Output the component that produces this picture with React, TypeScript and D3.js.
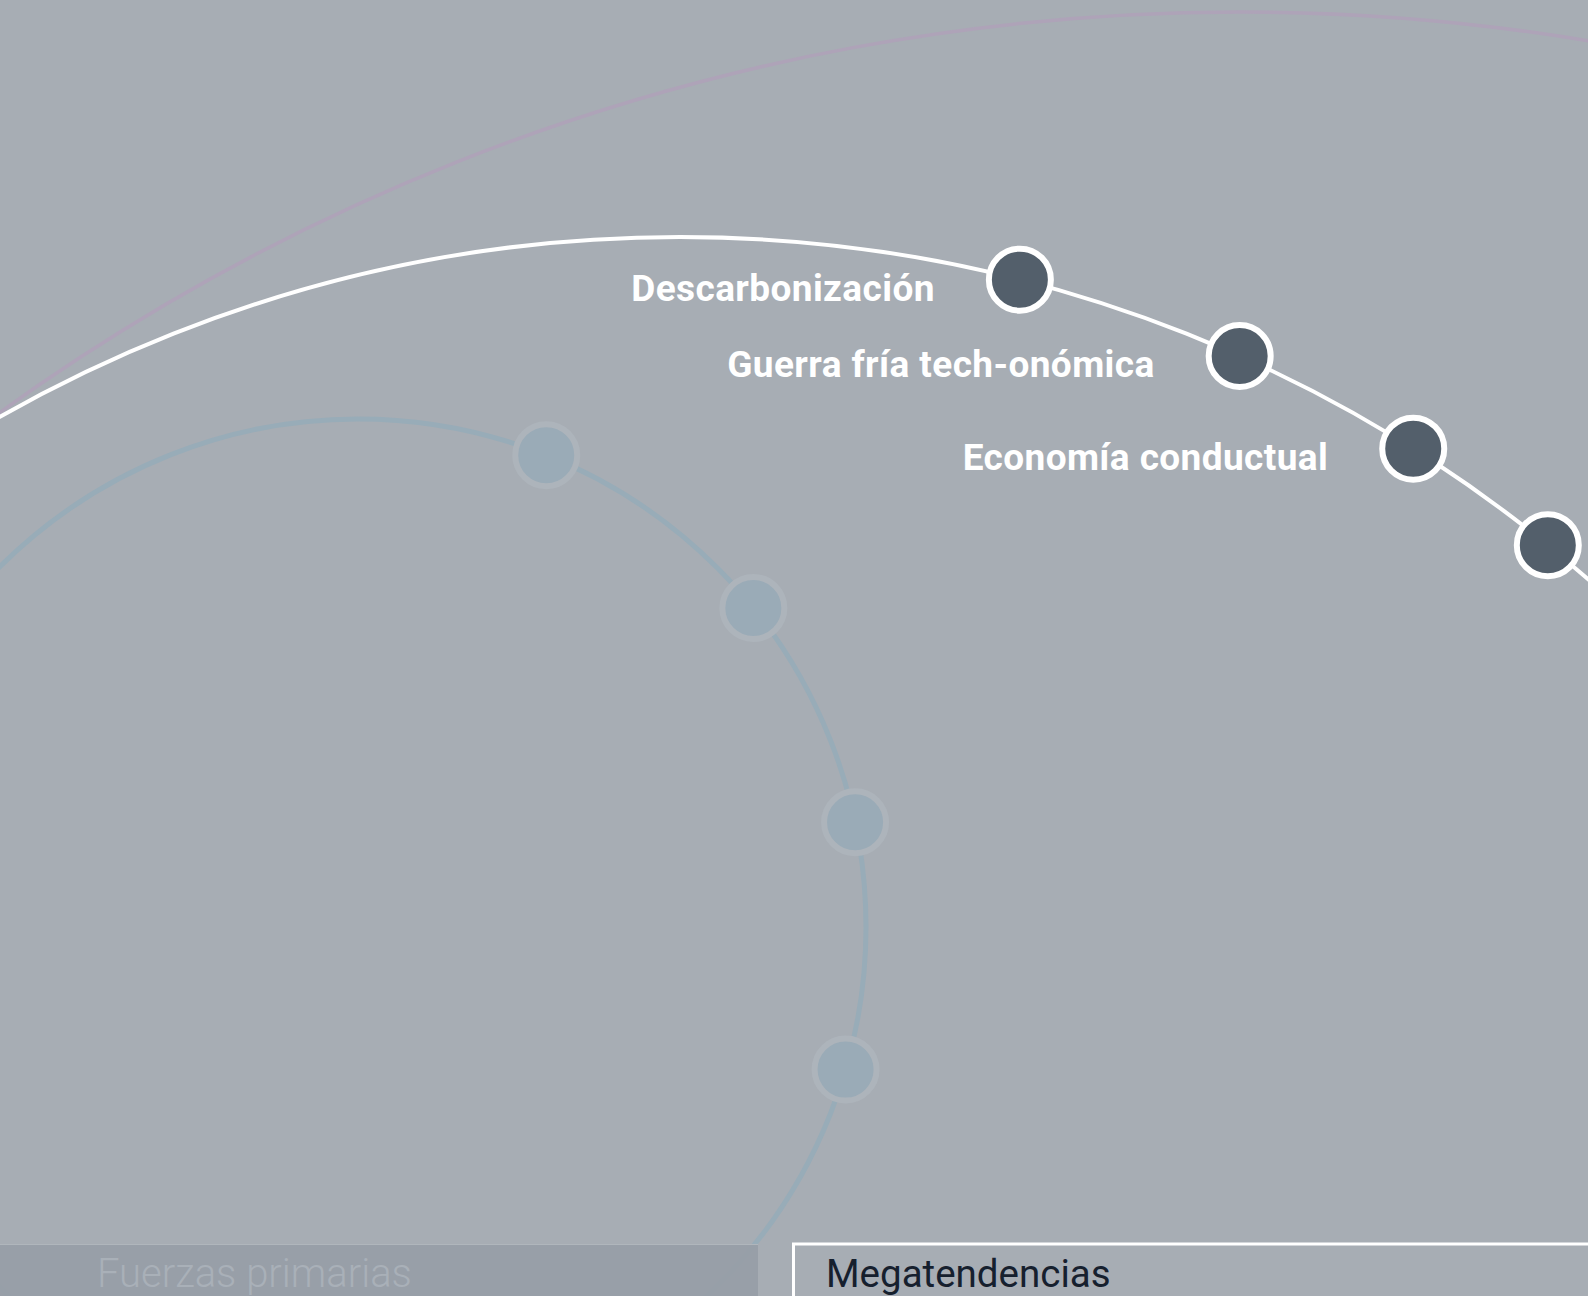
import React from 'react';
import * as d3 from 'd3';

const W = 1588;
const H = 1296;

// megatrends on the white ring (angles in degrees, clockwise from top)
const megatrendLabels = ['Descarbonización', 'Guerra fría tech-onómica', 'Economía conductual', ''];
const megatrendAngles = [14.3, 24.0, 32.2, 39.1];

// primary forces on the faint teal ring
const forceAngles = [21.75, 51.1, 78.1, 106.3];

const panelLabels = ['Fuerzas primarias', 'Megatendencias'];

const rad = (deg: number) => (deg * Math.PI) / 180;

export default function App() {
  const white = { cx: 680, cy: 1613, r: 1376 };
  const teal = { cx: 358, cy: 927, r: 508 };
  const pink = { cx: 1240, cy: 2132, r: 2120 };

  const ringPath = (ring: { cx: number; cy: number; r: number }) => {
    const p = d3.path();
    p.arc(ring.cx, ring.cy, ring.r, 0, Math.PI * 2);
    return p.toString();
  };

  const place = (ring: { cx: number; cy: number; r: number }, deg: number) => {
    const [x, y] = d3.pointRadial(rad(deg), ring.r);
    return [ring.cx + x, ring.cy + y];
  };

  const megatrends = megatrendLabels.map((label, i) => {
    const [x, y] = place(white, megatrendAngles[i]);
    return { label, x, y };
  });
  const forces = forceAngles.map((a) => {
    const [x, y] = place(teal, a);
    return { x, y };
  });

  return (
    <svg
      width={W}
      height={H}
      viewBox={`0 0 ${W} ${H}`}
      style={{ position: 'absolute', left: 0, top: 0, display: 'block' }}
      fontFamily="Roboto, 'Open Sans', sans-serif"
    >
      <rect width={W} height={H} fill="#a7adb4" />

      {/* faint outer ring */}
      <path d={ringPath(pink)} fill="none" stroke="#aea3b8" strokeWidth={3.5} />

      {/* faint inner ring */}
      <path d={ringPath(teal)} fill="none" stroke="#98acb8" strokeWidth={5} />
      {forces.map((d, i) => (
        <circle key={i} cx={d.x} cy={d.y} r={31} fill="#9aabb7" stroke="#adb4bb" strokeWidth={6} />
      ))}

      {/* highlighted ring */}
      <path d={ringPath(white)} fill="none" stroke="#ffffff" strokeWidth={4} />
      {megatrends.map((d, i) => (
        <g key={i}>
          <circle cx={d.x} cy={d.y} r={31} fill="#535f6b" stroke="#ffffff" strokeWidth={6} />
          {d.label && (
            <text
              x={d.x - 85}
              y={d.y + 21}
              textAnchor="end"
              fill="#ffffff"
              fontWeight={700}
              fontSize={37}
              letterSpacing={0.4}
            >
              {d.label}
            </text>
          )}
        </g>
      ))}

      {/* bottom tabs */}
      <rect x={0} y={1244} width={758} height={60} fill="#979ea7" fillOpacity={0.94} />
      <line x1={0} x2={758} y1={1244.5} y2={1244.5} stroke="#b0b6bc" strokeWidth={1} />
      <text x={97} y={1287} fill="#a9b0b8" fontWeight={300} fontSize={40}>
        {panelLabels[0]}
      </text>

      <rect x={793.5} y={1244} width={820} height={70} fill="none" stroke="#ffffff" strokeWidth={3} />
      <text x={826} y={1287} fill="#16202e" fontWeight={400} fontSize={38.5}>
        {panelLabels[1]}
      </text>
    </svg>
  );
}
